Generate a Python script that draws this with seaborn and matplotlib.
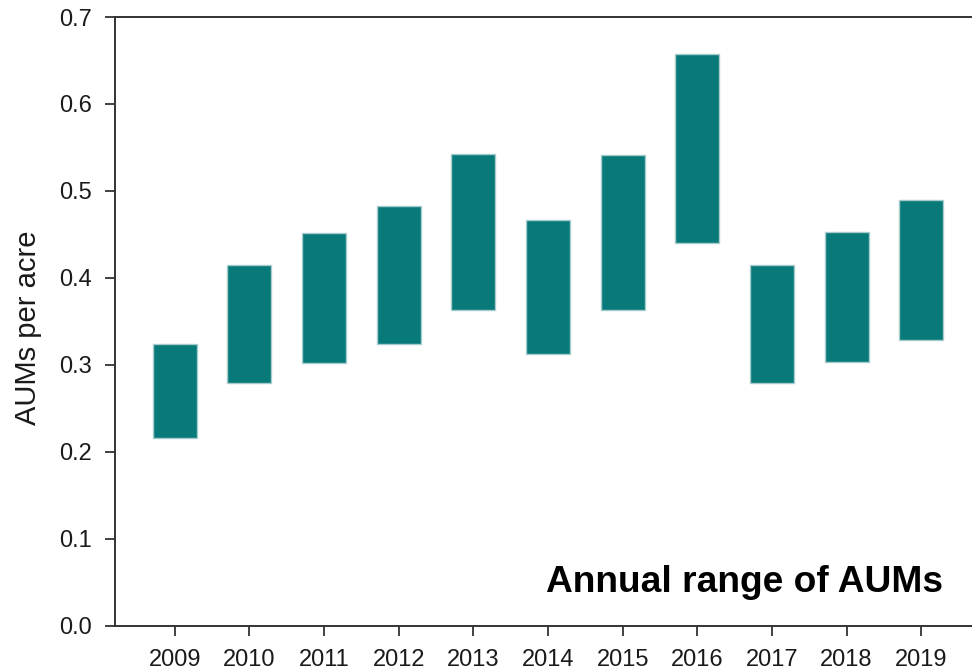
import pandas as pd
import seaborn as sns
import matplotlib
matplotlib.use('Agg')
import matplotlib.pyplot as plt

# data (AUMs per acre, low / high of each year)
years = ['2009', '2010', '2011', '2012', '2013', '2014', '2015', '2016', '2017', '2018', '2019']
low_aums = [0.216, 0.279, 0.302, 0.324, 0.363, 0.313, 0.363, 0.440, 0.279, 0.304, 0.329]
high_aums = [0.324, 0.415, 0.452, 0.483, 0.543, 0.467, 0.541, 0.658, 0.415, 0.453, 0.490]
y_ticks = [0.0, 0.1, 0.2, 0.3, 0.4, 0.5, 0.6, 0.7]

df = pd.DataFrame({'Year': years, 'Low': low_aums, 'High': high_aums})
df['Span'] = df['High'] - df['Low']

sns.set_style('white')
plt.rcParams['font.family'] = ['Liberation Sans', 'DejaVu Sans']
text_col = '#1a1a1a'

fig = plt.figure(figsize=(9.72, 6.72), dpi=100)
ax = fig.add_axes([0.1183, 0.0685, 0.8817, 0.9062])

# floating bars: height = range, bottom = low value
sns.barplot(data=df, x='Year', y='Span', bottom=df['Low'], width=0.59,
            color='#087a7a', saturation=1, edgecolor='#a8cccc', linewidth=1, ax=ax)

ax.set_ylim(0, 0.7)
ax.set_xlim(-0.8, 10.68)
ax.set_yticks(y_ticks)
ax.set_yticklabels([f'{t:.1f}' for t in y_ticks])

ax.set_xlabel('')
ax.set_ylabel('AUMs per acre', fontsize=21, labelpad=12, color=text_col)
ax.yaxis.set_label_coords(-0.085, 0.49)
ax.tick_params(axis='both', labelsize=17, length=7.5, width=1.3, color='#333333',
               labelcolor=text_col, direction='out', pad=9, left=True, bottom=True)

ax.spines['right'].set_visible(False)
for side in ['left', 'top', 'bottom']:
    ax.spines[side].set_color('#333333')
    ax.spines[side].set_linewidth(1.4)

fig.text(0.970, 0.119, 'Annual range of AUMs', ha='right', va='baseline',
         fontsize=26.7, fontweight='bold', color='black')

plt.savefig('out.png', dpi=100)
plt.close()
